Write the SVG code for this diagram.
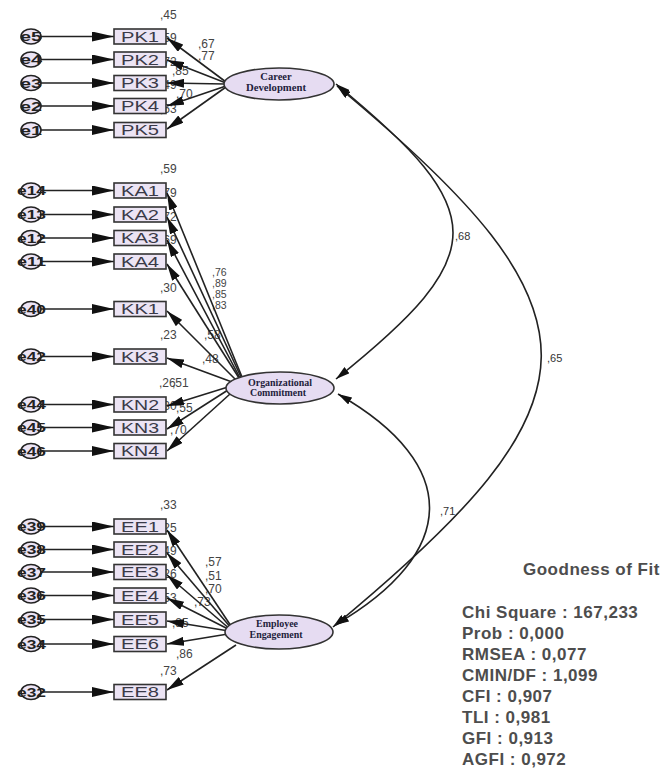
<svg xmlns="http://www.w3.org/2000/svg" width="667" height="770" viewBox="0 0 667 770">
<style>
.err{fill:#ece4f4;stroke:#222;stroke-width:1.6}
.box{fill:#ece4f4;stroke:#333;stroke-width:1.6}
.lat{fill:#e6dcf2;stroke:#333;stroke-width:1.6}
.et{font-family:"Liberation Sans",Arial,sans-serif;font-size:12px;fill:#222;font-weight:bold}
.bt{font-family:"Liberation Sans",Arial,sans-serif;font-size:14px;fill:#3a3a48;text-anchor:middle}
.lt{font-family:"Liberation Serif","Times New Roman",serif;font-size:10.5px;font-weight:bold;fill:#1e1e3c;text-anchor:middle}
.nl{font-family:"Liberation Sans",Arial,sans-serif;font-size:12px;fill:#444}
.sl{font-family:"Liberation Sans",Arial,sans-serif;font-size:10.5px;fill:#444}
.cl{font-family:"Liberation Sans",Arial,sans-serif;font-size:11px;fill:#333}
.fit{font-family:"Liberation Sans",Arial,sans-serif;font-size:17px;font-weight:bold;fill:#4d4d4d;letter-spacing:0.5px}
.ea{stroke:#222;stroke-width:1.6;fill:none;marker-end:url(#big)}
.la{stroke:#222;stroke-width:1.6;fill:none;marker-end:url(#mid)}
.cv{stroke:#222;stroke-width:1.6;fill:none;marker-start:url(#sm);marker-end:url(#sm)}
</style>
<defs>
<marker id="big" viewBox="0 0 22 10" refX="22" refY="5" markerWidth="22" markerHeight="10" markerUnits="userSpaceOnUse" orient="auto"><path d="M0,0 L22,5 L0,10 z" fill="#111"/></marker>
<marker id="mid" viewBox="0 0 17 9" refX="17" refY="4.5" markerWidth="17" markerHeight="9" markerUnits="userSpaceOnUse" orient="auto"><path d="M0,0 L17,4.5 L0,9 z" fill="#111"/></marker>
<marker id="sm" viewBox="0 0 14 8" refX="14" refY="4" markerWidth="14" markerHeight="8" markerUnits="userSpaceOnUse" orient="auto-start-reverse"><path d="M0,0 L14,4 L0,8 z" fill="#111"/></marker>
</defs>

<!-- coefficient labels (drawn first, partly covered like in the source) -->
<g id="labels">
<text class="nl" x="160" y="19">,45</text>
<text class="nl" x="160" y="42">,59</text>
<text class="nl" x="160" y="65.5">,72</text>
<text class="nl" x="160" y="88.5">,49</text>
<text class="nl" x="160" y="112.5">,53</text>
<text class="nl" x="198" y="48">,67</text>
<text class="nl" x="198" y="60">,77</text>
<text class="nl" x="172" y="75">,85</text>
<text class="nl" x="176" y="98">,70</text>

<text class="nl" x="160" y="173">,59</text>
<text class="nl" x="160" y="197">,79</text>
<text class="nl" x="160" y="220.5">,72</text>
<text class="nl" x="160" y="244">,69</text>
<text class="sl" x="212" y="276">,76</text>
<text class="sl" x="212" y="287">,89</text>
<text class="sl" x="212" y="298">,85</text>
<text class="sl" x="212" y="309">,83</text>
<text class="nl" x="160" y="292">,30</text>
<text class="nl" x="204" y="339">,58</text>
<text class="nl" x="160" y="339">,23</text>
<text class="nl" x="202" y="363">,48</text>
<text class="nl" x="159" y="387">,26</text>
<text class="nl" x="172" y="387">,51</text>
<text class="nl" x="160" y="410">,30</text>
<text class="nl" x="176" y="412">,55</text>
<text class="nl" x="170" y="434">,70</text>

<text class="nl" x="160" y="509">,33</text>
<text class="nl" x="160" y="532">,25</text>
<text class="nl" x="160" y="555">,49</text>
<text class="nl" x="160" y="578">,26</text>
<text class="nl" x="160" y="602">,53</text>
<text class="nl" x="205" y="566">,57</text>
<text class="nl" x="205" y="580">,51</text>
<text class="nl" x="205" y="593">,70</text>
<text class="nl" x="194" y="606">,73</text>
<text class="nl" x="172" y="627">,85</text>
<text class="nl" x="176" y="658">,86</text>
<text class="nl" x="160" y="675">,73</text>
</g>

<!-- connectors -->
<g id="connectors">
<line class="ea" x1="41" y1="36.5" x2="114" y2="36.5"/>
<line class="ea" x1="41" y1="59.5" x2="114" y2="59.5"/>
<line class="ea" x1="41" y1="83" x2="114" y2="83"/>
<line class="ea" x1="41" y1="106" x2="114" y2="106"/>
<line class="ea" x1="41" y1="130" x2="114" y2="130"/>
<line class="ea" x1="41" y1="190.5" x2="114" y2="190.5"/>
<line class="ea" x1="41" y1="214.5" x2="114" y2="214.5"/>
<line class="ea" x1="41" y1="238" x2="114" y2="238"/>
<line class="ea" x1="41" y1="261.5" x2="114" y2="261.5"/>
<line class="ea" x1="41" y1="309" x2="114" y2="309"/>
<line class="ea" x1="41" y1="356.5" x2="114" y2="356.5"/>
<line class="ea" x1="41" y1="404.5" x2="114" y2="404.5"/>
<line class="ea" x1="41" y1="427.5" x2="114" y2="427.5"/>
<line class="ea" x1="41" y1="451" x2="114" y2="451"/>
<line class="ea" x1="41" y1="526.5" x2="114" y2="526.5"/>
<line class="ea" x1="41" y1="549.5" x2="114" y2="549.5"/>
<line class="ea" x1="41" y1="572" x2="114" y2="572"/>
<line class="ea" x1="41" y1="595.5" x2="114" y2="595.5"/>
<line class="ea" x1="41" y1="619.5" x2="114" y2="619.5"/>
<line class="ea" x1="41" y1="644" x2="114" y2="644"/>
<line class="ea" x1="41" y1="692" x2="114" y2="692"/>
<line class="la" x1="226" y1="82" x2="167" y2="38"/>
<line class="la" x1="226" y1="83" x2="167" y2="60"/>
<line class="la" x1="225" y1="84" x2="167" y2="83"/>
<line class="la" x1="226" y1="86" x2="167" y2="106"/>
<line class="la" x1="226" y1="87" x2="167" y2="129"/>
<line class="la" x1="242" y1="377" x2="167" y2="193"/>
<line class="la" x1="241" y1="377" x2="167" y2="217"/>
<line class="la" x1="240" y1="378" x2="167" y2="240"/>
<line class="la" x1="239" y1="378" x2="167" y2="264"/>
<line class="la" x1="236" y1="380" x2="167" y2="311"/>
<line class="la" x1="232" y1="382" x2="167" y2="358"/>
<line class="la" x1="228" y1="387" x2="167" y2="406"/>
<line class="la" x1="228" y1="390" x2="167" y2="429"/>
<line class="la" x1="230" y1="394" x2="167" y2="451"/>
<line class="la" x1="233" y1="629" x2="167" y2="530"/>
<line class="la" x1="232" y1="629" x2="167" y2="553"/>
<line class="la" x1="231" y1="630" x2="167" y2="575"/>
<line class="la" x1="230" y1="630" x2="167" y2="598"/>
<line class="la" x1="229" y1="631" x2="167" y2="621"/>
<line class="la" x1="228" y1="634" x2="167" y2="644"/>
<line class="la" x1="236" y1="645" x2="167" y2="690"/>
<path class="cv" d="M336,84 C492,212 492,254 336,379"/>
<path class="cv" d="M337,86 C612,314 608,400 333,627"/>
<path class="cv" d="M338,394 C462,465 459,553 335,625"/>
<text class="cl" x="455" y="240">,68</text>
<text class="cl" x="547" y="362">,65</text>
<text class="cl" x="440" y="515">,71</text>
</g>

<g id="errors">
<ellipse class="err" cx="31" cy="36.5" rx="10" ry="7.5"/><text class="et" x="20" y="41" textLength="22" lengthAdjust="spacingAndGlyphs">e5</text>
<ellipse class="err" cx="31" cy="59.5" rx="10" ry="7.5"/><text class="et" x="20" y="64" textLength="22" lengthAdjust="spacingAndGlyphs">e4</text>
<ellipse class="err" cx="31" cy="83" rx="10" ry="7.5"/><text class="et" x="20" y="87.5" textLength="22" lengthAdjust="spacingAndGlyphs">e3</text>
<ellipse class="err" cx="31" cy="106" rx="10" ry="7.5"/><text class="et" x="20" y="110.5" textLength="22" lengthAdjust="spacingAndGlyphs">e2</text>
<ellipse class="err" cx="31" cy="130" rx="10" ry="7.5"/><text class="et" x="20" y="134.5" textLength="22" lengthAdjust="spacingAndGlyphs">e1</text>
<ellipse class="err" cx="31" cy="190.5" rx="10" ry="7.5"/><text class="et" x="17" y="195" textLength="29" lengthAdjust="spacingAndGlyphs">e14</text>
<ellipse class="err" cx="31" cy="214.5" rx="10" ry="7.5"/><text class="et" x="17" y="219" textLength="29" lengthAdjust="spacingAndGlyphs">e13</text>
<ellipse class="err" cx="31" cy="238" rx="10" ry="7.5"/><text class="et" x="17" y="242.5" textLength="29" lengthAdjust="spacingAndGlyphs">e12</text>
<ellipse class="err" cx="31" cy="261.5" rx="10" ry="7.5"/><text class="et" x="17" y="266" textLength="29" lengthAdjust="spacingAndGlyphs">e11</text>
<ellipse class="err" cx="31" cy="309" rx="10" ry="7.5"/><text class="et" x="17" y="313.5" textLength="29" lengthAdjust="spacingAndGlyphs">e40</text>
<ellipse class="err" cx="31" cy="356.5" rx="10" ry="7.5"/><text class="et" x="17" y="361" textLength="29" lengthAdjust="spacingAndGlyphs">e42</text>
<ellipse class="err" cx="31" cy="404.5" rx="10" ry="7.5"/><text class="et" x="17" y="409" textLength="29" lengthAdjust="spacingAndGlyphs">e44</text>
<ellipse class="err" cx="31" cy="427.5" rx="10" ry="7.5"/><text class="et" x="17" y="432" textLength="29" lengthAdjust="spacingAndGlyphs">e45</text>
<ellipse class="err" cx="31" cy="451" rx="10" ry="7.5"/><text class="et" x="17" y="455.5" textLength="29" lengthAdjust="spacingAndGlyphs">e46</text>
<ellipse class="err" cx="31" cy="526.5" rx="10" ry="7.5"/><text class="et" x="17" y="531" textLength="29" lengthAdjust="spacingAndGlyphs">e39</text>
<ellipse class="err" cx="31" cy="549.5" rx="10" ry="7.5"/><text class="et" x="17" y="554" textLength="29" lengthAdjust="spacingAndGlyphs">e38</text>
<ellipse class="err" cx="31" cy="572" rx="10" ry="7.5"/><text class="et" x="17" y="576.5" textLength="29" lengthAdjust="spacingAndGlyphs">e37</text>
<ellipse class="err" cx="31" cy="595.5" rx="10" ry="7.5"/><text class="et" x="17" y="600" textLength="29" lengthAdjust="spacingAndGlyphs">e36</text>
<ellipse class="err" cx="31" cy="619.5" rx="10" ry="7.5"/><text class="et" x="17" y="624" textLength="29" lengthAdjust="spacingAndGlyphs">e35</text>
<ellipse class="err" cx="31" cy="644" rx="10" ry="7.5"/><text class="et" x="17" y="648.5" textLength="29" lengthAdjust="spacingAndGlyphs">e34</text>
<ellipse class="err" cx="31" cy="692" rx="10" ry="7.5"/><text class="et" x="17" y="696.5" textLength="29" lengthAdjust="spacingAndGlyphs">e32</text>
</g>

<g id="PK1"><rect class="box" x="114" y="29" width="52" height="15"/><text class="bt" x="140" y="41.5" textLength="38" lengthAdjust="spacingAndGlyphs">PK1</text></g>
<g id="PK2"><rect class="box" x="114" y="52" width="52" height="15"/><text class="bt" x="140" y="64.5" textLength="38" lengthAdjust="spacingAndGlyphs">PK2</text></g>
<g id="PK3"><rect class="box" x="114" y="75.5" width="52" height="15"/><text class="bt" x="140" y="88" textLength="38" lengthAdjust="spacingAndGlyphs">PK3</text></g>
<g id="PK4"><rect class="box" x="114" y="98.5" width="52" height="15"/><text class="bt" x="140" y="111" textLength="38" lengthAdjust="spacingAndGlyphs">PK4</text></g>
<g id="PK5"><rect class="box" x="114" y="122.5" width="52" height="15"/><text class="bt" x="140" y="135" textLength="38" lengthAdjust="spacingAndGlyphs">PK5</text></g>
<g id="KA1"><rect class="box" x="114" y="183" width="52" height="15"/><text class="bt" x="140" y="195.5" textLength="38" lengthAdjust="spacingAndGlyphs">KA1</text></g>
<g id="KA2"><rect class="box" x="114" y="207" width="52" height="15"/><text class="bt" x="140" y="219.5" textLength="38" lengthAdjust="spacingAndGlyphs">KA2</text></g>
<g id="KA3"><rect class="box" x="114" y="230.5" width="52" height="15"/><text class="bt" x="140" y="243" textLength="38" lengthAdjust="spacingAndGlyphs">KA3</text></g>
<g id="KA4"><rect class="box" x="114" y="254" width="52" height="15"/><text class="bt" x="140" y="266.5" textLength="38" lengthAdjust="spacingAndGlyphs">KA4</text></g>
<g id="KK1"><rect class="box" x="114" y="301.5" width="52" height="15"/><text class="bt" x="140" y="314" textLength="38" lengthAdjust="spacingAndGlyphs">KK1</text></g>
<g id="KK3"><rect class="box" x="114" y="349" width="52" height="15"/><text class="bt" x="140" y="361.5" textLength="38" lengthAdjust="spacingAndGlyphs">KK3</text></g>
<g id="KN2"><rect class="box" x="114" y="397" width="52" height="15"/><text class="bt" x="140" y="409.5" textLength="38" lengthAdjust="spacingAndGlyphs">KN2</text></g>
<g id="KN3"><rect class="box" x="114" y="420" width="52" height="15"/><text class="bt" x="140" y="432.5" textLength="38" lengthAdjust="spacingAndGlyphs">KN3</text></g>
<g id="KN4"><rect class="box" x="114" y="443.5" width="52" height="15"/><text class="bt" x="140" y="456" textLength="38" lengthAdjust="spacingAndGlyphs">KN4</text></g>
<g id="EE1"><rect class="box" x="114" y="519" width="52" height="15"/><text class="bt" x="140" y="531.5" textLength="38" lengthAdjust="spacingAndGlyphs">EE1</text></g>
<g id="EE2"><rect class="box" x="114" y="542" width="52" height="15"/><text class="bt" x="140" y="554.5" textLength="38" lengthAdjust="spacingAndGlyphs">EE2</text></g>
<g id="EE3"><rect class="box" x="114" y="564.5" width="52" height="15"/><text class="bt" x="140" y="577" textLength="38" lengthAdjust="spacingAndGlyphs">EE3</text></g>
<g id="EE4"><rect class="box" x="114" y="588" width="52" height="15"/><text class="bt" x="140" y="600.5" textLength="38" lengthAdjust="spacingAndGlyphs">EE4</text></g>
<g id="EE5"><rect class="box" x="114" y="612" width="52" height="15"/><text class="bt" x="140" y="624.5" textLength="38" lengthAdjust="spacingAndGlyphs">EE5</text></g>
<g id="EE6"><rect class="box" x="114" y="636.5" width="52" height="15"/><text class="bt" x="140" y="649" textLength="38" lengthAdjust="spacingAndGlyphs">EE6</text></g>
<g id="EE8"><rect class="box" x="114" y="684.5" width="52" height="15"/><text class="bt" x="140" y="697" textLength="38" lengthAdjust="spacingAndGlyphs">EE8</text></g>

<g id="career">
<ellipse class="lat" cx="279" cy="84" rx="55" ry="16"/>
<text class="lt" x="276" y="80">Career</text>
<text class="lt" x="276" y="91" textLength="60" lengthAdjust="spacingAndGlyphs">Development</text>
</g>
<g id="organizational">
<ellipse class="lat" cx="280" cy="388" rx="54" ry="16"/>
<text class="lt" x="280" y="386" textLength="64" lengthAdjust="spacingAndGlyphs">Organizational</text>
<text class="lt" x="278" y="396" textLength="56" lengthAdjust="spacingAndGlyphs">Commitment</text>
</g>
<g id="engagement">
<ellipse class="lat" cx="279" cy="632" rx="54" ry="17"/>
<text class="lt" x="277" y="627" textLength="42" lengthAdjust="spacingAndGlyphs">Employee</text>
<text class="lt" x="276" y="638" textLength="53" lengthAdjust="spacingAndGlyphs">Engagement</text>
</g>

<g id="fit">
<text class="fit" x="523" y="575">Goodness of Fit</text>
<text class="fit" x="462" y="618">Chi Square : 167,233</text>
<text class="fit" x="462" y="639">Prob : 0,000</text>
<text class="fit" x="462" y="660">RMSEA : 0,077</text>
<text class="fit" x="462" y="681">CMIN/DF : 1,099</text>
<text class="fit" x="462" y="702">CFI : 0,907</text>
<text class="fit" x="462" y="723">TLI : 0,981</text>
<text class="fit" x="462" y="744">GFI : 0,913</text>
<text class="fit" x="462" y="765">AGFI : 0,972</text>
</g>
</svg>
